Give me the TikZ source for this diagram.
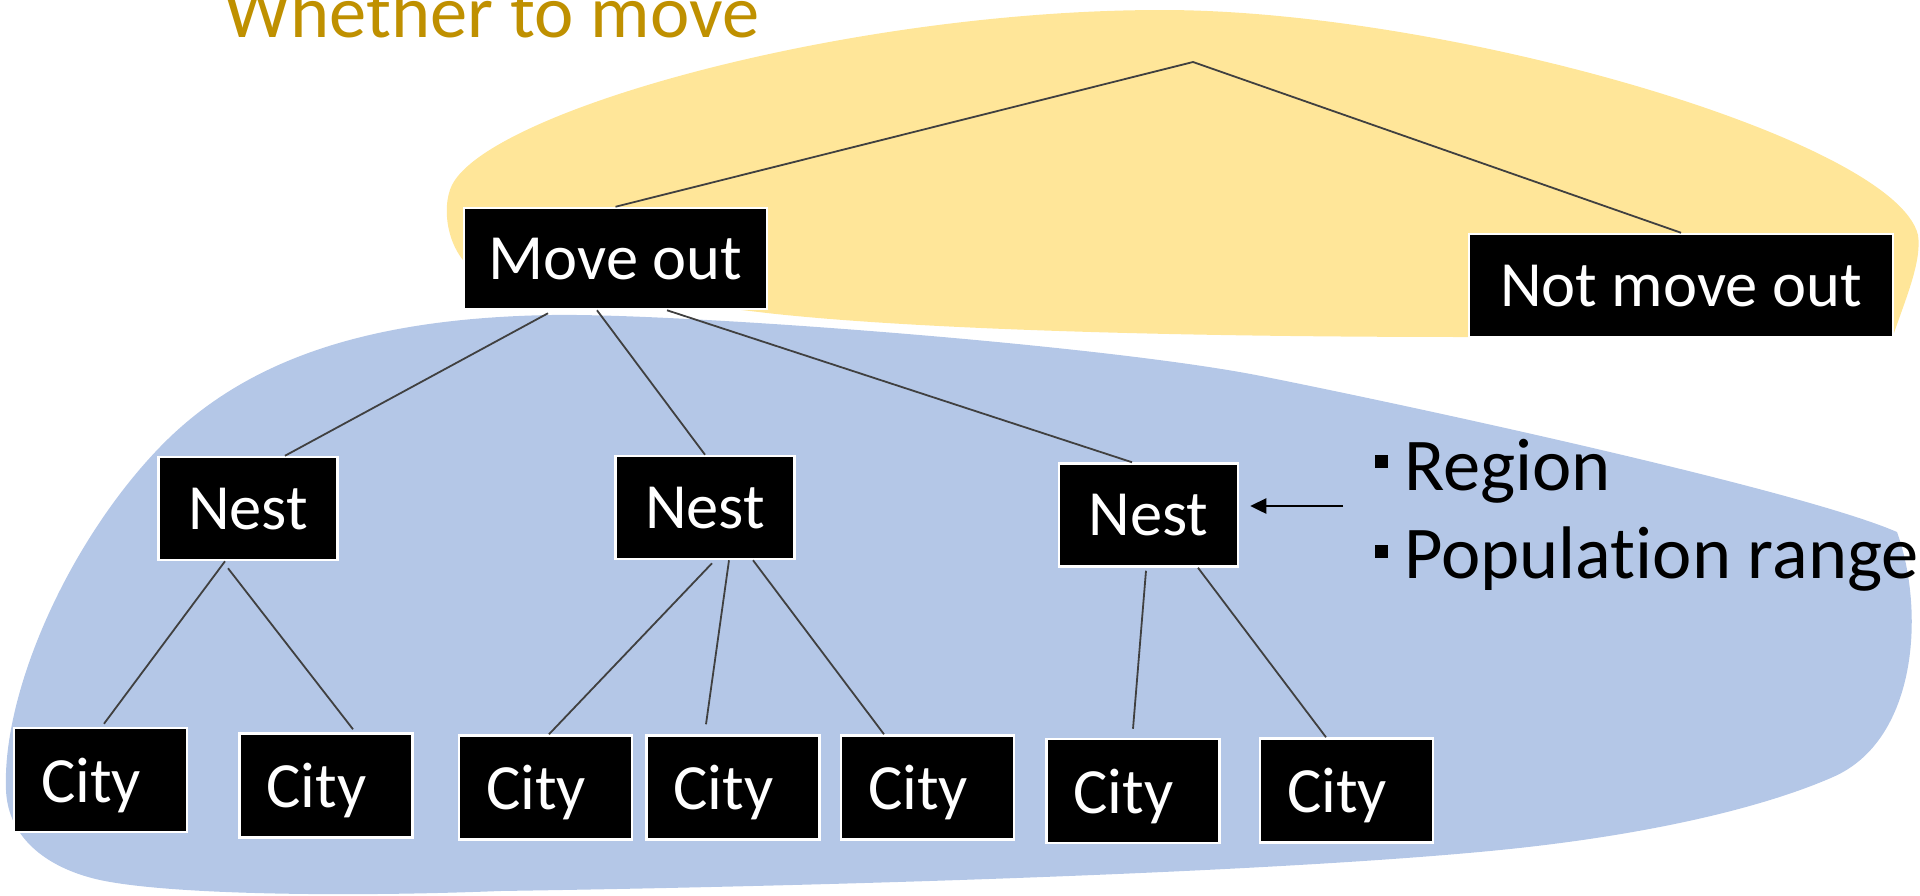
\documentclass[tikz,border=0pt]{standalone}
\usepackage{fontspec}
\setmainfont{Carlito}[Ligatures=NoCommon]
\usetikzlibrary{arrows.meta}
\definecolor{ylw}{HTML}{FFE699}
\definecolor{blu}{HTML}{B4C7E7}
\definecolor{gold}{HTML}{BF9000}
\definecolor{conn}{HTML}{404040}
\begin{document}
\begin{tikzpicture}[x=1pt,y=-1pt,
  box/.style={fill=black, draw=white, line width=2.5pt, text=white, inner sep=0pt,
    text depth=0pt, font=\fontsize{64.5}{70}\selectfont},
  citybox/.style={box, minimum width=173pt, minimum height=104pt},
  nestbox/.style={box, minimum width=179pt, minimum height=103pt},
  link/.style={draw=conn, line width=1.8pt},
  listtext/.style={anchor=base west, inner sep=0pt, font=\fontsize{74.5}{80}\selectfont},
  pointer/.style={draw=black, line width=2.5pt, -{Triangle[length=16pt,width=15pt]}}]
\useasboundingbox (0,0) rectangle (1920,895);
% background blobs
\fill[ylw] (480,275) .. controls (446,255) and (441,207) .. (452,185)
  .. controls (490,110) and (850,10) .. (1162,10)
  .. controls (1450,10) and (1895,140) .. (1918,235)
  .. controls (1922,262) and (1905,300) .. (1893,336)
  -- (1469,337)
  .. controls (1150,337) and (900,328) .. (767,313)
  .. controls (700,305) and (560,290) .. (480,275) -- cycle;
\fill[blu] (6,790) .. controls (2,690) and (70,540) .. (160,447)
  .. controls (250,354) and (380,318) .. (551,315)
  .. controls (680,313) and (1110,345) .. (1266,377)
  .. controls (1416,407) and (1800,490) .. (1897,532)
  .. controls (1925,610) and (1918,740) .. (1833,777)
  .. controls (1765,807) and (1650,835) .. (1500,850)
  .. controls (1300,870) and (900,885) .. (500,891)
  .. controls (350,897) and (170,895) .. (100,880)
  .. controls (50,869) and (8,840) .. (6,790) -- cycle;
% title
\node[anchor=base west, inner sep=0pt, text=gold, font=\fontsize{74.5}{80}\selectfont] (title) at (224,37) {Whether to move};
% nodes
\coordinate (apex) at (1193,62);
\node[box, minimum width=303pt, minimum height=101pt] (mo) at (615.5,258.5) {Move out};
\node[box, minimum width=424pt, minimum height=103pt] (nmo) at (1681,285.5) {Not move out};
\node[nestbox] (n1) at (248,508.5) {Nest};
\node[nestbox] (n2) at (705,507.5) {Nest};
\node[nestbox] (n3) at (1148.5,515) {Nest};
\node[citybox] (c1) at (100.5,780) {City\hspace{19pt}\mbox{}};
\node[citybox] (c2) at (326,785.5) {City\hspace{19pt}\mbox{}};
\node[citybox] (c3) at (545.5,787.5) {City\hspace{19pt}\mbox{}};
\node[citybox] (c4) at (733,787.5) {City\hspace{19pt}\mbox{}};
\node[citybox] (c5) at (927.5,787.5) {City\hspace{19pt}\mbox{}};
\node[citybox] (c6) at (1133,791) {City\hspace{19pt}\mbox{}};
\node[citybox] (c7) at (1346.5,790.5) {City\hspace{19pt}\mbox{}};
% connectors
\draw[link] (mo.north) -- (apex) -- (nmo.north);
\draw[link] ([xshift=-67.5pt,yshift=-3pt]mo.south) -- ([xshift=37pt]n1.north);
\draw[link] ([xshift=-18.5pt]mo.south) -- (n2.north);
\draw[link] ([xshift=51.5pt]mo.south) -- ([xshift=-16.5pt]n3.north);
\draw[link] ([xshift=-23pt]n1.south) -- ([xshift=3.5pt,yshift=3pt]c1.north);
\draw[link] ([xshift=-20pt,yshift=-7pt]n1.south) -- ([xshift=27pt,yshift=3pt]c2.north);
\draw[link] ([xshift=7pt,yshift=-3pt]n2.south) -- ([xshift=3.5pt]c3.north);
\draw[link] ([xshift=24pt]n2.south) -- ([xshift=-27pt,yshift=10pt]c4.north);
\draw[link] ([xshift=48pt]n2.south) -- ([xshift=-43.5pt]c5.north);
\draw[link] ([xshift=-2.5pt,yshift=-3pt]n3.south) -- ([yshift=9pt]c6.north);
\draw[link] ([xshift=49.5pt]n3.south) -- ([xshift=-20.5pt]c7.north);
% side list
\coordinate (arrS) at (1343,506);
\draw[pointer] (arrS) -- ([xshift=11pt,yshift=9pt]n3.east);
\node[listtext] (l1) at (1375,490) {\rule[22pt]{13pt}{13pt}\hspace{16pt}Region};
\node[listtext] (l2) at (1375,578) {\rule[20pt]{13pt}{13pt}\hspace{16pt}Population range};
\end{tikzpicture}
\end{document}
